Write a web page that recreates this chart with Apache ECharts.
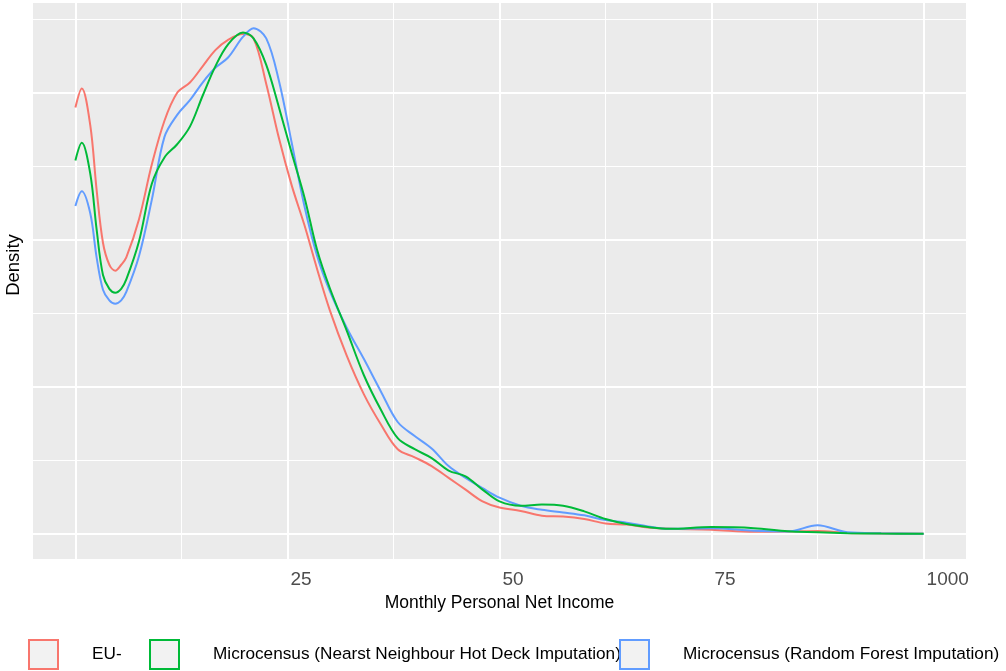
<!DOCTYPE html>
<html>
<head>
<meta charset="utf-8">
<script src="https://cdn.jsdelivr.net/npm/echarts@6/dist/echarts.min.js"></script>
<style>
    html, body { margin: 0; padding: 0; background: #fff; }
    #chart { width: 1006px; height: 671px; }
</style>
</head>
<body>
<div id="chart"></div>
<script>
'use strict';

// monthly personal net income (x) and density of each source
var income = [0, 0.75, 1.75, 2.5, 3.25, 4, 4.7, 5.4, 6, 7.5, 9, 10.5, 12, 13.5, 15, 16.5, 18, 19.75, 21, 22.5, 24, 25.5,
    27, 28.5, 30, 32, 34, 36, 38, 40, 42, 44, 46, 48, 50, 52.5, 55, 57.5, 60, 62.5, 65, 67.5,
    70, 75, 80, 84, 87.5, 91, 95, 100];
var euSilc = [2.90, 3.03, 2.78, 2.34, 1.98, 1.83, 1.79, 1.83, 1.88, 2.14, 2.51, 2.81, 3.00, 3.07, 3.18, 3.29, 3.36, 3.40, 3.37, 3.06, 2.69, 2.37,
    2.10, 1.80, 1.52, 1.21, 0.95, 0.745, 0.575, 0.52, 0.46, 0.38, 0.30, 0.22, 0.178, 0.155, 0.123, 0.117, 0.10, 0.07, 0.062, 0.042,
    0.033, 0.027, 0.013, 0.015, 0.018, 0.005, 0.002, 0];
var hotDeck = [2.54, 2.66, 2.45, 2.07, 1.76, 1.666, 1.64, 1.666, 1.73, 1.99, 2.38, 2.56, 2.65, 2.77, 2.98, 3.18, 3.33, 3.41, 3.37, 3.19, 2.90, 2.59,
    2.29, 1.93, 1.67, 1.38, 1.08, 0.845, 0.65, 0.575, 0.515, 0.43, 0.39, 0.30, 0.22, 0.19, 0.198, 0.19, 0.152, 0.10, 0.066, 0.045,
    0.033, 0.045, 0.038, 0.016, 0.01, 0.004, 0.001, 0];
var randomForest = [2.23, 2.33, 2.18, 1.88, 1.66, 1.588, 1.565, 1.588, 1.645, 1.89, 2.27, 2.70, 2.85, 2.95, 3.07, 3.17, 3.24, 3.38, 3.44, 3.37, 3.08, 2.66,
    2.23, 1.89, 1.65, 1.40, 1.19, 0.97, 0.76, 0.665, 0.58, 0.46, 0.38, 0.31, 0.245, 0.19, 0.163, 0.145, 0.125, 0.093, 0.075, 0.05,
    0.033, 0.038, 0.02, 0.015, 0.057, 0.01, 0.003, 0];

var xTicks = [0, 25, 50, 75, 100];
var xTickLabels = ['', '25', '50', '75', '1000'];
var xMinor = [12.5, 37.5, 62.5, 87.5];
var yTicks = [0, 1, 2, 3];
var yMinor = [0.5, 1.5, 2.5, 3.5];

var seriesNames = ['EU-', 'Microcensus (Nearst Neighbour Hot Deck Imputation)', 'Microcensus (Random Forest Imputation)'];
var seriesColors = ['#F8766D', '#00BA38', '#619CFF'];
var legendLeft = [28, 149, 619];

var FONT = '"Liberation Sans", Arial, sans-serif';

function pairs(values) {
    return income.map(function (x, i) {
        return [x, values[i]];
    });
}

function gridLines() {
    var data = [];
    xTicks.forEach(function (v) { data.push({xAxis: v, lineStyle: {width: 2}}); });
    yTicks.forEach(function (v) { data.push({yAxis: v, lineStyle: {width: 2}}); });
    xMinor.forEach(function (v) { data.push({xAxis: v, lineStyle: {width: 1}}); });
    yMinor.forEach(function (v) { data.push({yAxis: v, lineStyle: {width: 1}}); });
    return data;
}

function densityLine(i, values, z) {
    return {
        name: seriesNames[i],
        type: 'line',
        data: pairs(values),
        smooth: 0.35,
        symbol: 'none',
        z: z,
        lineStyle: {color: seriesColors[i], width: 2},
        itemStyle: {color: seriesColors[i]}
    };
}

function legendFor(i) {
    return {
        data: [{
            name: seriesNames[i],
            icon: 'rect',
            itemStyle: {color: '#F2F2F2', borderColor: seriesColors[i], borderWidth: 2}
        }],
        left: legendLeft[i],
        top: 639,
        itemWidth: 29,
        itemHeight: 29,
        selectedMode: false,
        padding: 0,
        textStyle: {fontFamily: FONT, fontSize: 17.2, color: '#000', padding: [5, 0, 0, 29]}
    };
}

var chart = echarts.init(document.getElementById('chart'), null, {renderer: 'canvas'});

chart.setOption({
    animation: false,
    grid: {
        left: 33, top: 3, width: 933, height: 556,
        outerBoundsMode: 'none',
        containLabel: false,
        show: true, backgroundColor: '#EBEBEB', borderWidth: 0
    },
    legend: [legendFor(0), legendFor(1), legendFor(2)],
    xAxis: {
        type: 'value',
        min: -5,
        max: 105,
        splitLine: {show: false},
        axisLine: {show: false},
        axisTick: {show: true, customValues: xTicks, length: 6, lineStyle: {color: '#333333', width: 1.5}},
        axisLabel: {
            customValues: [25, 50, 75, 100],
            formatter: function (v) { return xTickLabels[xTicks.indexOf(v)]; },
            align: 'left',
            margin: 11,
            padding: [0, 0, 0, 3],
            fontFamily: FONT,
            fontSize: 19,
            color: '#4D4D4D'
        },
        name: 'Monthly Personal Net Income',
        nameLocation: 'middle',
        nameGap: 26,
        nameTextStyle: {fontFamily: FONT, fontSize: 17.5, color: '#000'}
    },
    yAxis: {
        type: 'value',
        min: -0.172,
        max: 3.611,
        splitLine: {show: false},
        axisLine: {show: false},
        axisTick: {show: true, customValues: yTicks, length: 6, lineStyle: {color: '#333333', width: 1.5}},
        axisLabel: {show: false},
        name: 'Density',
        nameLocation: 'middle',
        nameGap: 10,
        nameTextStyle: {fontFamily: FONT, fontSize: 18.5, color: '#000', padding: [0, 0, 0, 32]}
    },
    series: [
        {
            type: 'line',
            data: [],
            silent: true,
            z: 1,
            markLine: {
                silent: true,
                symbol: ['none', 'none'],
                label: {show: false},
                lineStyle: {color: '#FFFFFF', type: 'solid'},
                emphasis: {disabled: true},
                z: 1,
                data: gridLines()
            }
        },
        densityLine(0, euSilc, 2),
        densityLine(2, randomForest, 3),
        densityLine(1, hotDeck, 4)
    ]
});
</script>
</body>
</html>
